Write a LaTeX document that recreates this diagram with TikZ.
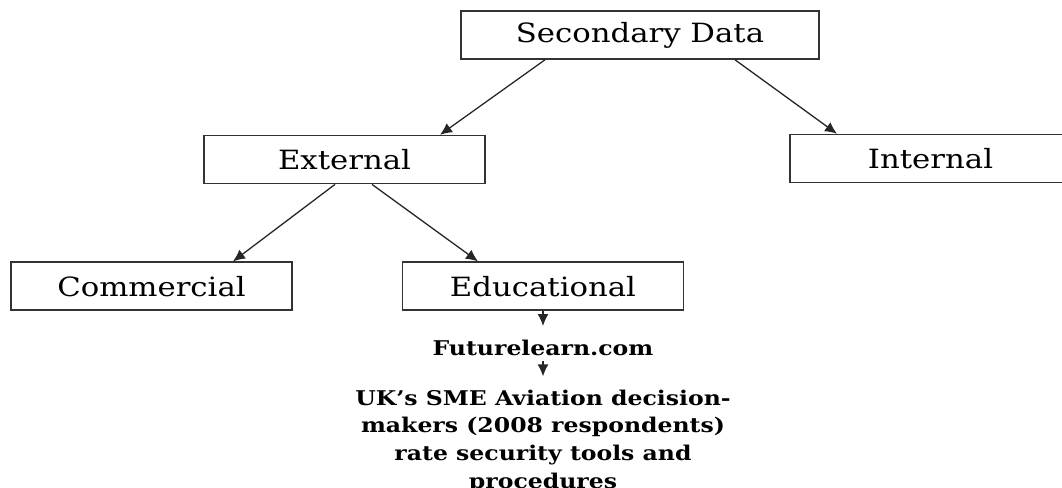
\documentclass[tikz,border=0pt]{standalone}
\usepackage{fontspec}
\setmainfont{DejaVu Serif}[FakeStretch=1.16]
\usepackage{tikz}
\usetikzlibrary{arrows.meta, positioning}
\tikzstyle{block} = [rectangle, draw=black!80, line width=1.6pt, minimum width=281pt,
    minimum height=48pt, inner sep=0pt, font=\fontsize{26.5}{30}\selectfont]
\tikzstyle{line} = [draw=black!85, line width=1.3pt, -{Latex[length=12pt,width=11pt]}]
\tikzstyle{note} = [align=center, inner xsep=0pt, font=\fontsize{20.3}{27.7}\selectfont\bfseries]

\begin{document}
\begin{tikzpicture}[x=1pt, y=-1pt, node distance=75pt]
      \useasboundingbox (0,0) rectangle (1062,487);
      % Sources tree
      \node [block, minimum width=358pt] (secondary) at (640,35) {Secondary Data};
      \node [block, below=75pt of secondary, xshift=-295.5pt] (external) {External};
      \node [block, below=74pt of secondary, xshift=290.5pt] (internal) {Internal};
      \node [block, below=77pt of external, xshift=-193pt] (commercial) {Commercial};
      \node [block, below=77pt of external, xshift=198.5pt] (educational) {Educational};
      \node [note, below=15pt of educational, inner ysep=0pt, text height=29pt, text depth=6pt] (futurelearn) {Futurelearn.com};
      \node [note, below=15pt of futurelearn, inner ysep=13pt] (survey) {UK's SME Aviation decision-\\makers (2008 respondents)\\rate security tools and\\procedures};
      % Draw edges
      \path [line] ([xshift=-95pt]secondary.south) -- ([xshift=95.5pt]external.north);
      \path [line] ([xshift=95pt]secondary.south) -- ([xshift=-93.5pt]internal.north);
      \path [line] ([xshift=-9.5pt]external.south) -- ([xshift=81.5pt]commercial.north);
      \path [line] ([xshift=27.5pt]external.south) -- ([xshift=-65pt]educational.north);
      \path [line] (educational) -- (futurelearn);
      \path [line] (futurelearn) -- (survey);
    \end{tikzpicture}
\end{document}
